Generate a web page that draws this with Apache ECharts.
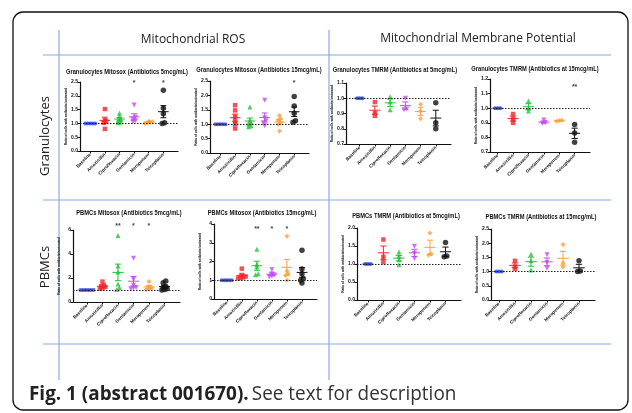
<!DOCTYPE html>
<html>
<head>
<meta charset="utf-8">
<script src="https://cdn.jsdelivr.net/npm/echarts@6/dist/echarts.min.js"></script>
<style>
  html, body { margin: 0; padding: 0; background: #fff; }
  #main { width: 632px; height: 413px; }
</style>
</head>
<body>
<div id="main"></div>
<script>
// categories shared by all 8 panels
var cats = ['Baseline', 'Amoxicillin', 'Ciprofloxacin', 'Gentamicin', 'Meropenem', 'Teicoplanin'];

// ratio of cells with antibiotic/untreated, one list per category
var granMitosox5 = [
  [1, 1, 1, 1, 1],
  [1.52, 1.12, 1.08, 1.02, 0.8],
  [1.37, 1.25, 1.15, 1.1, 1.02, 1.05],
  [1.67, 1.22, 1.15, 1.1, 1.05],
  [1.08, 1.05, 1.02, 1.0, 1.06],
  [2.2, 1.55, 1.35, 1.02, 1.0]
];
var granMitosox15 = [
  [1, 1, 1, 1, 1],
  [1.66, 1.48, 1.26, 1.1, 1.0, 0.85],
  [1.6, 1.15, 1.05, 1.0, 0.95, 0.91],
  [1.83, 1.22, 1.12, 1.05, 0.95],
  [1.3, 1.2, 1.15, 1.05, 1.0, 0.76],
  [1.96, 1.63, 1.38, 1.12, 1.07]
];
var granTmrm5 = [
  [1, 1, 1],
  [0.975, 0.905, 0.885],
  [1.01, 0.975, 0.925],
  [1.0, 0.93, 0.925],
  [0.96, 0.915, 0.865],
  [0.97, 0.84, 0.8]
];
var granTmrm15 = [
  [1, 1, 1],
  [0.96, 0.925, 0.9],
  [1.05, 1.0, 0.98],
  [0.92, 0.9, 0.895],
  [0.918, 0.915, 0.91],
  [0.888, 0.83, 0.766]
];
var pbmcMitosox5 = [
  [1, 1, 1, 1, 1, 1],
  [1.7, 1.4, 1.3, 1.25, 1.15, 1.1],
  [5.55, 3.0, 2.5, 1.5, 1.2, 1.05],
  [3.65, 1.9, 1.4, 1.2, 1.15, 1.1],
  [1.7, 1.3, 1.15, 1.1, 1.05],
  [1.75, 1.6, 1.3, 1.2, 1.1, 1.05, 1.0]
];
var pbmcMitosox15 = [
  [1, 1, 1, 1, 1],
  [1.62, 1.28, 1.2, 1.15, 1.12, 1.1],
  [2.65, 1.85, 1.72, 1.35, 1.3],
  [1.58, 1.35, 1.28, 1.22, 1.18],
  [3.35, 1.5, 1.35, 1.25, 1.0],
  [2.6, 1.6, 1.35, 1.1, 1.0, 0.86]
];
var pbmcTmrm5 = [
  [1, 1, 1],
  [1.68, 1.2, 1.05],
  [1.33, 1.22, 1.12, 0.98],
  [1.49, 1.29, 1.15],
  [1.86, 1.28, 1.25],
  [1.6, 1.22, 1.2]
];
var pbmcTmrm15 = [
  [1, 1, 1],
  [1.38, 1.18, 1.1],
  [1.61, 1.38, 1.06],
  [1.59, 1.32, 1.12],
  [1.95, 1.3, 1.16],
  [1.38, 1.02, 1.0]
];

// significance marks per category
var granMitosox5Stars = ['', '', '', '*', '', '*'];
var granMitosox15Stars = ['', '', '', '', '', '*'];
var granTmrm15Stars = ['', '', '', '', '', '**'];
var pbmcMitosox5Stars = ['', '', '**', '*', '*', ''];
var pbmcMitosox15Stars = ['', '', '**', '*', '*', ''];

var REF = 1;
var yName = 'Ratio of cells with antibiotic/untreated';

var colors = ['#2a43e6', '#f2262b', '#23c23a', '#c34cf0', '#ff9f3a', '#111111'];
var symbols = ['circle', 'rect', 'triangle', 'triangle', 'diamond', 'circle'];
var symRot = [0, 0, 0, 180, 0, 0];
var symSize = [4, 4.5, 5, 5, 5, 5.5];

var panels = [
  { title: 'Granulocytes Mitosox (Antibiotics 5mcg/mL)', data: granMitosox5, stars: granMitosox5Stars, starAt: 2.45,
    tx: 127, ty: 72, left: 80, top: 82, width: 98, height: 69, lo: -0.7, min: 0, max: 2.5, step: 0.5, dec: 1 },
  { title: 'Granulocytes Mitosox (Antibiotics 15mcg/mL)', data: granMitosox15, stars: granMitosox15Stars, starAt: 2.42,
    tx: 259, ty: 70, left: 210, top: 81, width: 99, height: 72, lo: -0.7, min: 0, max: 2.5, step: 0.5, dec: 1 },
  { title: 'Granulocytes TMRM (Antibiotics at 5mcg/mL)', data: granTmrm5, stars: null, starAt: 0,
    tx: 395, ty: 70, left: 346, top: 83, width: 105, height: 61, lo: -0.9, min: 0.7, max: 1.1, step: 0.1, dec: 1 },
  { title: 'Granulocytes TMRM (Antibiotics at 15mcg/mL)', data: granTmrm15, stars: granTmrm15Stars, starAt: 1.143,
    tx: 535, ty: 69, left: 490, top: 79, width: 100, height: 73, lo: -0.5, min: 0.7, max: 1.2, step: 0.1, dec: 1 },
  { title: 'PBMCs Mitosox (Antibiotics 5mcg/mL)', data: pbmcMitosox5, stars: pbmcMitosox5Stars, starAt: 6.36,
    tx: 129, ty: 213, left: 73, top: 230, width: 107, height: 72, lo: -0.9, min: 0, max: 6, step: 2, dec: 0 },
  { title: 'PBMCs Mitosox (Antibiotics 15mcg/mL)', data: pbmcMitosox15, stars: pbmcMitosox15Stars, starAt: 3.73,
    tx: 262, ty: 213, left: 214, top: 224, width: 103, height: 75, lo: -0.85, min: 0, max: 4, step: 1, dec: 0 },
  { title: 'PBMCs TMRM (Antibiotics at 5mcg/mL)', data: pbmcTmrm5, stars: null, starAt: 0,
    tx: 406, ty: 216, left: 357, top: 228, width: 104, height: 72, lo: -0.7, min: 0, max: 2, step: 0.5, dec: 1 },
  { title: 'PBMCs TMRM (Antibiotics at 15mcg/mL)', data: pbmcTmrm15, stars: null, starAt: 0,
    tx: 541, ty: 217, left: 491, top: 229, width: 104, height: 71, lo: -0.5, min: 0, max: 2.5, step: 0.5, dec: 1 }
];

// spread points with near-equal values sideways, like a prism scatter column
function swarm(vals, i, span) {
  var order = vals.slice().sort(function (a, b) { return a - b; });
  var out = [], group = [];
  function flush() {
    group.forEach(function (v, k) { out.push([i + (k - (group.length - 1) / 2) * 0.17, v]); });
    group = [];
  }
  order.forEach(function (v) {
    if (group.length && v - group[0] > span * 0.03) flush();
    group.push(v);
  });
  flush();
  return out;
}

function stats(vals) {
  var n = vals.length;
  var m = vals.reduce(function (a, b) { return a + b; }, 0) / n;
  var ss = vals.reduce(function (a, b) { return a + (b - m) * (b - m); }, 0);
  return [m, Math.sqrt(ss / (n - 1)) / Math.sqrt(n)];
}

var idx = cats.map(function (c, i) { return i; });
var grids = [], xAxes = [], yAxes = [], series = [];
var graphics = [];

panels.forEach(function (p, k) {
  grids.push({ left: p.left, top: p.top, width: p.width, height: p.height });
  xAxes.push({
    gridIndex: k, type: 'value', min: p.lo, max: 6,
    axisLine: { onZero: false, lineStyle: { color: '#111', width: 1.2 } },
    axisTick: { customValues: idx, length: 2.5, lineStyle: { color: '#111', width: 1 } },
    axisLabel: { customValues: idx, formatter: function (v) { return cats[v]; }, rotate: 45,
      fontSize: 4.5, fontWeight: 'bold', margin: 3, color: '#111', fontFamily: 'Liberation Sans' },
    splitLine: { show: false }
  });
  yAxes.push({
    gridIndex: k, type: 'value', min: p.min, max: p.max, interval: p.step,
    name: yName, nameLocation: 'middle', nameGap: 12, nameRotate: 90,
    nameTextStyle: { fontSize: 3.2, fontWeight: 'bold', color: '#111', fontFamily: 'Liberation Sans' },
    axisLine: { show: true, onZero: false, lineStyle: { color: '#111', width: 1.2 } },
    axisTick: { show: true, length: 2.5, lineStyle: { color: '#111', width: 1 } },
    axisLabel: { fontSize: 5, fontWeight: 'bold', margin: 2, color: '#111', fontFamily: 'Liberation Sans',
      formatter: function (v) { return v.toFixed(p.dec); } },
    splitLine: { show: false }
  });

  p.data.forEach(function (vals, i) {
    var s = {
      type: 'scatter', xAxisIndex: k, yAxisIndex: k,
      data: swarm(vals, i, p.max - p.min),
      symbol: symbols[i], symbolRotate: symRot[i], symbolSize: symSize[i],
      itemStyle: { color: colors[i] }, z: 3
    };
    if (i === 0) {
      s.markLine = {
        silent: true, symbol: 'none', label: { show: false },
        lineStyle: { color: '#222', width: 1.2, type: [1.5, 1.5] },
        data: [{ yAxis: REF }]
      };
    }
    series.push(s);
  });

  series.push({
    type: 'custom', xAxisIndex: k, yAxisIndex: k, z: 4,
    data: p.data.map(function (vals, i) { var st = stats(vals); return [i, st[0], st[1]]; }),
    encode: { x: 0, y: 1 },
    renderItem: function (params, api) {
      var x = api.value(0), m = api.value(1), e = api.value(2);
      var c = api.coord([x, m]), t = api.coord([x, m + e]), b = api.coord([x, m - e]);
      var w = api.size([1, 0])[0];
      var st = { stroke: colors[params.dataIndex], lineWidth: 1 };
      return {
        type: 'group', children: [
          { type: 'line', shape: { x1: c[0] - w * 0.36, y1: c[1], x2: c[0] + w * 0.36, y2: c[1] }, style: st },
          { type: 'line', shape: { x1: t[0], y1: t[1], x2: b[0], y2: b[1] }, style: st },
          { type: 'line', shape: { x1: t[0] - w * 0.2, y1: t[1], x2: t[0] + w * 0.2, y2: t[1] }, style: st },
          { type: 'line', shape: { x1: b[0] - w * 0.2, y1: b[1], x2: b[0] + w * 0.2, y2: b[1] }, style: st }
        ]
      };
    }
  });

  if (p.stars) {
    var sd = [];
    p.stars.forEach(function (s, i) { if (s) sd.push([i, p.starAt, s]); });
    series.push({
      type: 'scatter', xAxisIndex: k, yAxisIndex: k, clip: false, z: 5,
      data: sd, symbolSize: 1, itemStyle: { color: 'rgba(0,0,0,0)' },
      label: { show: true, position: 'inside', formatter: function (q) { return q.value[2]; },
        fontSize: 7, fontWeight: 'bold', color: '#111', fontFamily: 'Liberation Sans' }
    });
  }

  graphics.push({
    type: 'text', x: p.tx, y: p.ty, scaleX: 0.9,
    style: { text: p.title, align: 'center', verticalAlign: 'middle', fill: '#111',
      font: 'bold 6.4px "Liberation Sans", Arial, sans-serif' }
  });
});

// frame and table rules
var blue = '#8aa9dc';
graphics.push(
  { type: 'rect', shape: { x: 13, y: 12, width: 615, height: 398, r: 10 }, style: { fill: 'none', stroke: '#111', lineWidth: 1.3 } },
  { type: 'line', shape: { x1: 43, y1: 55, x2: 611, y2: 55 }, style: { stroke: blue, lineWidth: 1.2 } },
  { type: 'line', shape: { x1: 43, y1: 200, x2: 611, y2: 200 }, style: { stroke: blue, lineWidth: 1.2 } },
  { type: 'line', shape: { x1: 43, y1: 344, x2: 611, y2: 344 }, style: { stroke: blue, lineWidth: 1.2 } },
  { type: 'line', shape: { x1: 59, y1: 30, x2: 59, y2: 380 }, style: { stroke: blue, lineWidth: 1.2 } },
  { type: 'line', shape: { x1: 329, y1: 30, x2: 329, y2: 380 }, style: { stroke: blue, lineWidth: 1.2 } },
  { type: 'text', x: 193, y: 40, style: { text: 'Mitochondrial ROS', align: 'center', verticalAlign: 'middle',
      fill: '#222', font: '12px "Open Sans", sans-serif' } },
  { type: 'text', x: 478, y: 39, style: { text: 'Mitochondrial Membrane Potential', align: 'center', verticalAlign: 'middle',
      fill: '#222', font: '12px "Open Sans", sans-serif' } },
  { type: 'text', x: 45, y: 136, rotation: Math.PI / 2, style: { text: 'Granulocytes', align: 'center', verticalAlign: 'middle',
      fill: '#222', font: '13px "Open Sans", sans-serif' } },
  { type: 'text', x: 45, y: 267, rotation: Math.PI / 2, style: { text: 'PBMCs', align: 'center', verticalAlign: 'middle',
      fill: '#222', font: '13px "Open Sans", sans-serif' } },
  { type: 'text', x: 29, y: 394, scaleX: 0.945, style: {
      text: '{b|Fig. 1 (abstract 001670).} {r|See text for description}', verticalAlign: 'middle',
      rich: {
        b: { fontSize: 20, fontWeight: 'bold', fontFamily: 'Open Sans', fill: '#222' },
        r: { fontSize: 20, fontFamily: 'Open Sans', fill: '#333' }
      } } }
);

var chart = echarts.init(document.getElementById('main'));
chart.setOption({
  animation: false,
  backgroundColor: '#fff',
  grid: grids,
  xAxis: xAxes,
  yAxis: yAxes,
  series: series,
  graphic: { elements: graphics }
});
</script>
</body>
</html>
